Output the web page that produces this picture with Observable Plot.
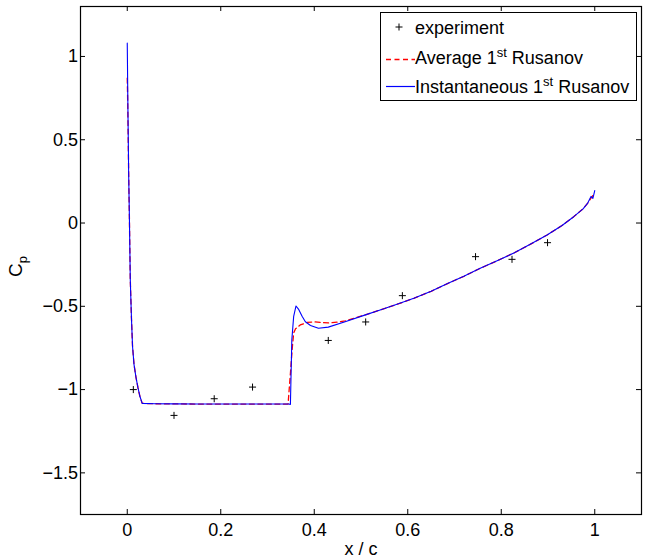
<!DOCTYPE html>
<html><head><meta charset="utf-8">
<script src="https://cdn.jsdelivr.net/npm/d3@7"></script>
<script src="https://cdn.jsdelivr.net/npm/@observablehq/plot@0.6"></script>
<style>body{margin:0;background:#fff}</style>
</head><body><div id="chart"></div>
<script>
// experiment points
const expX = [0.013, 0.1, 0.186, 0.268, 0.43, 0.51, 0.5885, 0.745, 0.823, 0.899];
const expY = [-1.0, -1.155, -1.055, -0.985, -0.705, -0.594, -0.436, -0.202, -0.218, -0.118];

// Instantaneous 1st Rusanov
const instX = [0, 0.0005, 0.001, 0.002, 0.003, 0.0045, 0.0065, 0.009, 0.0113, 0.0145, 0.0186, 0.023, 0.027, 0.032,
  0.06, 0.1, 0.15, 0.2, 0.25, 0.3, 0.33, 0.345, 0.349, 0.352, 0.356, 0.361, 0.367, 0.374, 0.381, 0.392, 0.409, 0.43,
  0.466, 0.511, 0.541, 0.577, 0.613, 0.65, 0.684, 0.72, 0.755, 0.79, 0.827, 0.862, 0.898, 0.93, 0.955, 0.975, 0.985,
  0.992, 0.996, 1.0];
const instY = [1.08, 0.95, 0.8, 0.55, 0.3, 0.05, -0.34, -0.57, -0.74, -0.85, -0.925, -0.99, -1.04, -1.083,
  -1.085, -1.086, -1.087, -1.087, -1.087, -1.087, -1.087, -1.087, -1.089, -0.703, -0.56, -0.498, -0.52, -0.56, -0.593,
  -0.615, -0.632, -0.625, -0.593, -0.55, -0.522, -0.488, -0.452, -0.41, -0.365, -0.32, -0.272, -0.228, -0.18, -0.128,
  -0.072, -0.015, 0.038, 0.085, 0.12, 0.16, 0.148, 0.195];

// Average 1st Rusanov
const avgX = [0, 0.0005, 0.001, 0.002, 0.003, 0.0045, 0.0065, 0.009, 0.0113, 0.0145, 0.0186, 0.023, 0.027, 0.032,
  0.06, 0.1, 0.15, 0.2, 0.25, 0.3, 0.33, 0.344, 0.349, 0.353, 0.356, 0.36, 0.37, 0.385, 0.4, 0.415, 0.43, 0.45,
  0.466, 0.511, 0.541, 0.577, 0.613, 0.65, 0.684, 0.72, 0.755, 0.79, 0.827, 0.862, 0.898, 0.93, 0.955, 0.975, 0.985,
  0.992, 1.0];
const avgY = [0.87, 0.8, 0.72, 0.52, 0.3, 0.05, -0.34, -0.57, -0.74, -0.85, -0.925, -0.99, -1.04, -1.083,
  -1.085, -1.086, -1.087, -1.087, -1.087, -1.087, -1.087, -1.087, -0.903, -0.75, -0.66, -0.635, -0.612, -0.597, -0.593,
  -0.597, -0.6, -0.595, -0.588, -0.55, -0.522, -0.488, -0.452, -0.41, -0.365, -0.32, -0.272, -0.228, -0.18, -0.128,
  -0.072, -0.015, 0.038, 0.085, 0.12, 0.15, 0.18];

const xTicks = [0, 0.2, 0.4, 0.6, 0.8, 1];
const yTicks = [-1.5, -1, -0.5, 0, 0.5, 1];
const seriesNames = ["experiment", "Average 1", "Instantaneous 1"];

const exp = expX.map((x, i) => ({x, y: expY[i]}));
const inst = instX.map((x, i) => ({x, y: instY[i]}));
const avg = avgX.map((x, i) => ({x, y: avgY[i]}));
const fmt = d => String(d).replace("-", "\u2212");
const FONT = "'Liberation Sans', Arial, Helvetica, sans-serif";

const W = 649, H = 558, ML = 80, MR = 8, MT = 6, MB = 44, TL = 5;
const PW = W - ML - MR, PH = H - MT - MB;

const chart = Plot.plot({
  width: W, height: H,
  marginLeft: ML, marginRight: MR, marginTop: MT, marginBottom: MB,
  style: {fontFamily: FONT, fontSize: "18px", background: "white", color: "black", overflow: "visible"},
  x: {domain: [-0.1, 1.1]},
  y: {domain: [-1.75, 1.3]},
  marks: [
    Plot.line(avg, {x: "x", y: "y", stroke: "#ff0000", strokeWidth: 1.3, strokeDasharray: "5,3.5"}),
    Plot.line(inst, {x: "x", y: "y", stroke: "#0000ff", strokeWidth: 1.1}),
    Plot.dot(exp, {x: "x", y: "y", symbol: "plus", r: 2.4, stroke: "black", strokeWidth: 1}),
    // inward ticks on all four sides
    Plot.tickX(xTicks, {x: d => d, insetTop: PH - TL, stroke: "black"}),
    Plot.tickX(xTicks, {x: d => d, insetBottom: PH - TL, stroke: "black"}),
    Plot.tickY(yTicks, {y: d => d, insetRight: PW - TL, stroke: "black"}),
    Plot.tickY(yTicks, {y: d => d, insetLeft: PW - TL, stroke: "black"}),
    Plot.axisX(xTicks, {anchor: "bottom", tickSize: 0, tickPadding: 9, tickFormat: fmt, label: null}),
    Plot.axisY(yTicks, {anchor: "left", tickSize: 0, tickPadding: 2.5, tickFormat: fmt, label: null}),
    Plot.frame({stroke: "black", strokeWidth: 1.2})
  ]
});
document.getElementById("chart").appendChild(chart);

const svg = d3.select(chart);
// axis labels
svg.append("text").attr("x", 361).attr("y", 555).attr("text-anchor", "middle")
  .attr("font-family", FONT).attr("font-size", 18).attr("fill", "black").text("x / c");
const yl = svg.append("text").attr("transform", "translate(21.5,277) rotate(-90)")
  .attr("text-anchor", "start").attr("font-family", FONT).attr("font-size", 19).attr("fill", "black");
yl.append("tspan").text("C");
yl.append("tspan").attr("dy", 5).attr("font-size", 13).text("p");

// legend
const lg = svg.append("g").attr("font-family", FONT).attr("font-size", 18).attr("fill", "black")
  .attr("text-anchor", "start");
lg.append("rect").attr("x", 380.5).attr("y", 12.5).attr("width", 256).attr("height", 88)
  .attr("fill", "white").attr("stroke", "black").attr("stroke-width", 1);
lg.append("path").attr("d", "M395.5,27h7M399,23.5v7").attr("stroke", "black").attr("stroke-width", 1).attr("fill", "none");
lg.append("path").attr("d", "M386,59.5H415").attr("fill", "none")
  .style("stroke", "#ff0000").style("stroke-width", "1.4px").style("stroke-dasharray", "5,3.5");
lg.append("path").attr("d", "M386,86.5H415").attr("fill", "none")
  .style("stroke", "#0000ff").style("stroke-width", "1.2px");
lg.append("text").attr("x", 415).attr("y", 33.5).text(seriesNames[0]);
[1, 2].forEach((k, i) => {
  const t = lg.append("text").attr("x", 415).attr("y", i === 0 ? 64 : 93);
  t.append("tspan").text(seriesNames[k]);
  t.append("tspan").attr("dy", -7).attr("font-size", 13).text("st");
  t.append("tspan").attr("dy", 7).text(" Rusanov");
});
</script>
</body></html>
